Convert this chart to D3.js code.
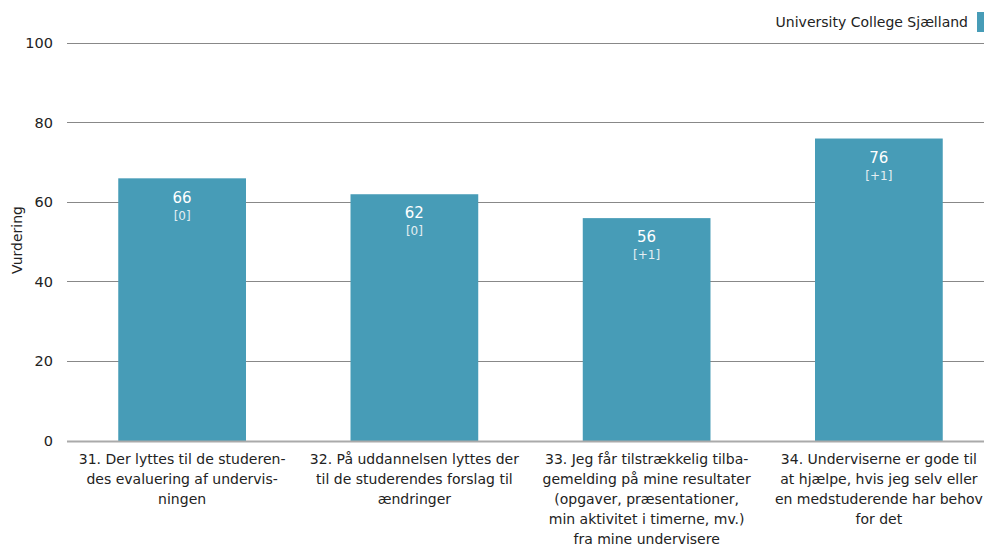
<!DOCTYPE html>
<html><head><meta charset="utf-8">
<script src="https://cdn.jsdelivr.net/npm/d3@7"></script>
<style>body{margin:0;background:#fff;} svg{display:block;font-family:"DejaVu Sans",Verdana,sans-serif;}</style>
</head><body><svg id="c" width="984" height="546"></svg>
<script>
const categories = [
  ["31. Der lyttes til de studeren-","des evaluering af undervis-","ningen"],
  ["32. På uddannelsen lyttes der","til de studerendes forslag til","ændringer"],
  ["33. Jeg får tilstrækkelig tilba-","gemelding på mine resultater","(opgaver, præsentationer,","min aktivitet i timerne, mv.)","fra mine undervisere"],
  ["34. Underviserne er gode til","at hjælpe, hvis jeg selv eller","en medstuderende har behov","for det"]
];
const values = [66, 62, 56, 76];
const changes = ["[0]", "[0]", "[+1]", "[+1]"];
const yTicks = [0, 20, 40, 60, 80, 100];
const seriesName = "University College Sjælland";
const yTitle = "Vurdering";

const svg = d3.select("#c");
const color = "#479cb7";
const x = d3.scaleBand().domain(d3.range(categories.length)).range([66, 995]).paddingInner(0.45).paddingOuter(0.225);
const y = d3.scaleLinear().domain([0, 100]).range([441, 43]);

// grid
svg.append("g").selectAll("line").data(yTicks.filter(d=>d>0)).join("line")
  .attr("x1", 67).attr("x2", 984).attr("y1", d=>y(d)).attr("y2", d=>y(d))
  .attr("stroke", "#888").attr("stroke-width", 1).attr("shape-rendering","crispEdges");
svg.append("g").selectAll("text").data(yTicks).join("text")
  .attr("x", 53).attr("y", d=>y(d)).attr("dy","0.35em").attr("text-anchor","end")
  .attr("font-size", 14.5).attr("fill","#222").text(d=>d);

// bars
svg.append("g").selectAll("rect").data(values).join("rect")
  .attr("x", (d,i)=>x(i)).attr("width", x.bandwidth())
  .attr("y", d=>y(d)).attr("height", d=>y(0)-y(d)).attr("fill", color);

// baseline
svg.append("line").attr("x1",67).attr("x2",984).attr("y1",y(0)+0.5).attr("y2",y(0)+0.5)
  .attr("stroke","#aaa").attr("stroke-width",2);

// value labels
const lab = svg.append("g");
lab.selectAll("text.v").data(values).join("text").attr("class","v")
  .attr("x",(d,i)=>x(i)+x.bandwidth()/2).attr("y",d=>y(d)+19).attr("dy","0.35em")
  .attr("text-anchor","middle").attr("font-size",15).attr("fill","#fff").text(d=>d);
lab.selectAll("text.c").data(changes).join("text").attr("class","c")
  .attr("x",(d,i)=>x(i)+x.bandwidth()/2).attr("y",(d,i)=>y(values[i])+37).attr("dy","0.35em")
  .attr("text-anchor","middle").attr("font-size",12).attr("fill","#e4eef2").text(d=>d);

// category labels
const cl = svg.append("g");
categories.forEach((lines,i)=>{
  const t = cl.append("text").attr("text-anchor","middle").attr("font-size",14).attr("fill","#222");
  lines.forEach((ln,j)=>{
    t.append("tspan").attr("x", x(i)+x.bandwidth()/2).attr("y", 459+20*j).attr("dy","0.35em").text(ln);
  });
});

// y title
svg.append("text").attr("transform","translate(17,240) rotate(-90)").attr("text-anchor","middle")
  .attr("dy","0.35em").attr("font-size",14).attr("fill","#222").text(yTitle);

// legend
svg.append("rect").attr("x",977).attr("y",12).attr("width",8).attr("height",20).attr("fill",color);
svg.append("text").attr("x",968).attr("y",22).attr("dy","0.35em").attr("text-anchor","end")
  .attr("font-size",14).attr("fill","#222").text(seriesName);
</script></body></html>
